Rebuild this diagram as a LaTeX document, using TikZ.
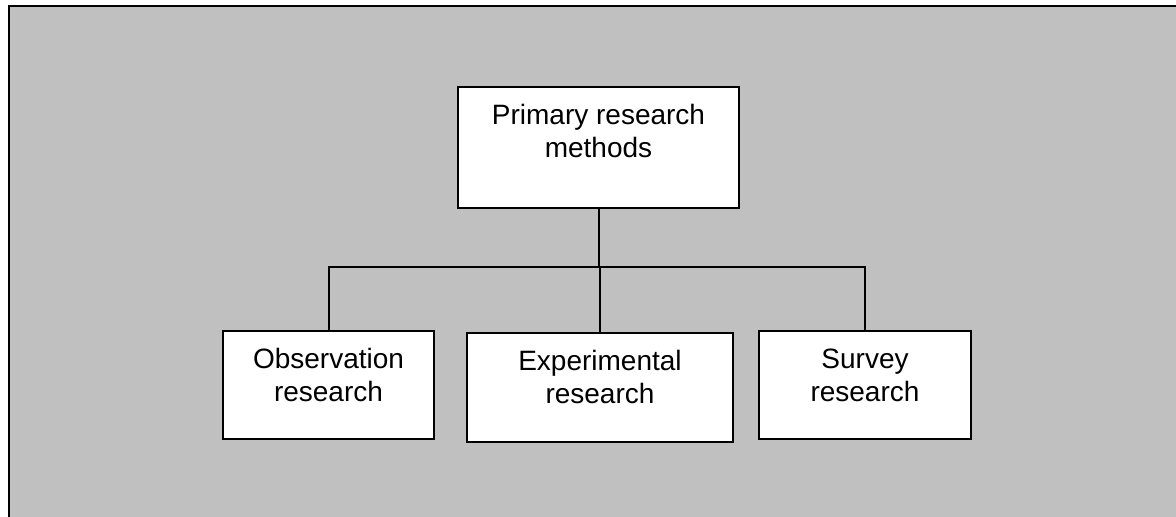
\documentclass[tikz,border=0pt]{standalone}
\usepackage{fontspec}
\setmainfont{Liberation Sans}
\usetikzlibrary{calc}
\newcommand{\boxtext}[3]{\parbox[c][#2pt][t]{#1pt}{\centering\vspace*{14pt}\strut #3}}

\begin{document}
\begin{tikzpicture}[x=1pt, y=-1pt,
	box/.style={draw=black, fill=white, line width=2pt, inner sep=0pt, font=\fontsize{28}{33}\selectfont},
	link/.style={draw=black, line width=2pt}]
	%%%%% START %%%%%
	
	\useasboundingbox (0, 0) rectangle (1176, 517);
	\fill[color={rgb,255:red,192;green,192;blue,192}] (9, 6) rectangle (1176, 517);
	\draw[line width=2.4pt] (9, 517) -- (9, 6) -- (1176, 6);
	
	\node[box] (prim) at (598.5, 147.5) {\boxtext{281}{121}{Primary research\\methods}};
	
	\node[box] (obs) at (328.5, 385) {\boxtext{211}{108}{Observation\\research}};
	\node[box] (exp) at (600, 387.5) {\boxtext{266}{109}{Experimental\\research}};
	\node[box] (surv) at (865, 385) {\boxtext{212}{108}{Survey\\research}};
	
	\coordinate (bar) at (598.5, 267);
	\draw[link] (prim.south) -- (bar);
	\draw[link] (obs.north) |- (bar) -| (surv.north);
	\draw[link] (exp.north) -- (exp.north |- bar);
	
	%%%%% END %%%%%
\end{tikzpicture}
\end{document}
